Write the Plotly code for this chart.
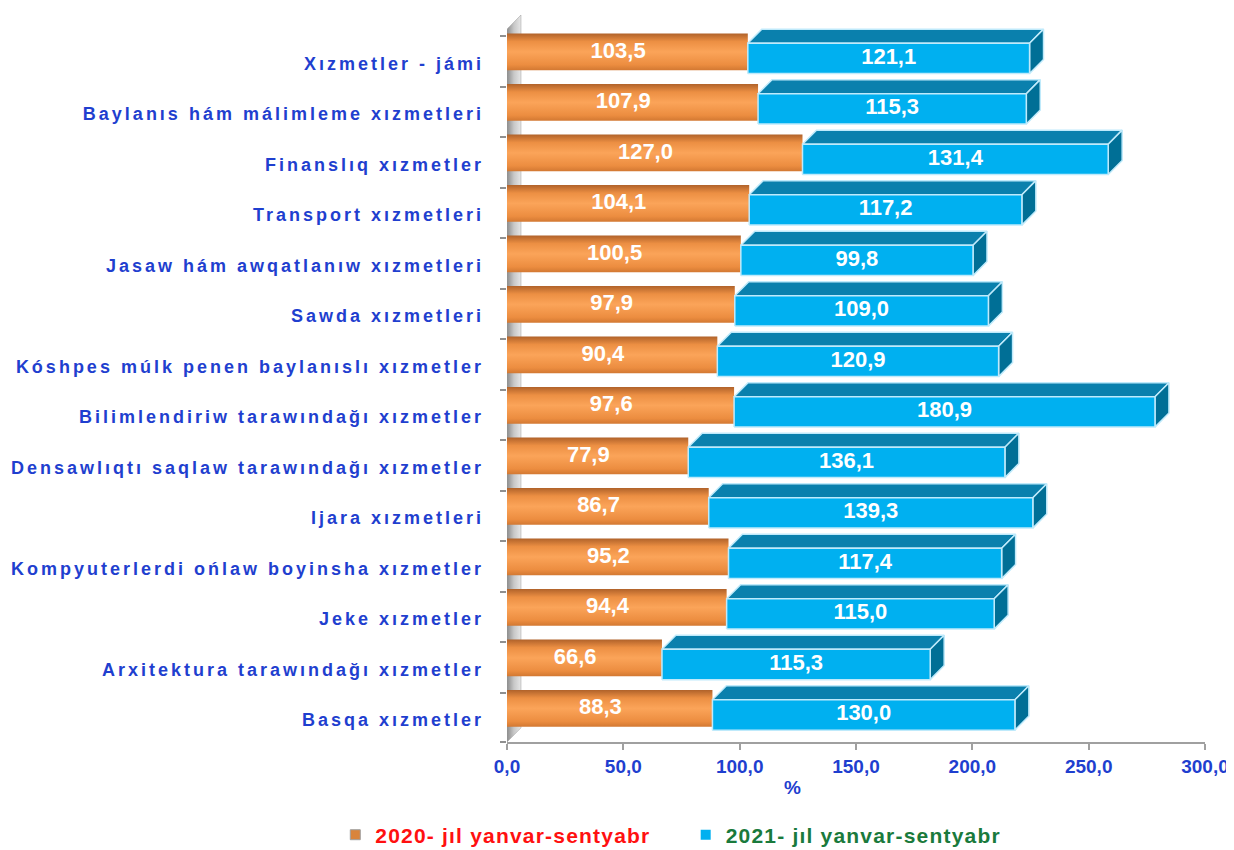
import plotly.graph_objects as go

categories = ["Xızmetler - jámi", "Baylanıs hám málimleme xızmetleri", "Finanslıq xızmetler",
              "Transport xızmetleri", "Jasaw hám awqatlanıw xızmetleri", "Sawda xızmetleri",
              "Kóshpes múlk penen baylanıslı xızmetler", "Bilimlendiriw tarawındağı xızmetler",
              "Densawlıqtı saqlaw tarawındağı xızmetler", "Ijara xızmetleri",
              "Kompyuterlerdi ońlaw boyinsha xızmetler", "Jeke xızmetler",
              "Arxitektura tarawındağı xızmetler", "Basqa xızmetler"]
v2020 = [103.5, 107.9, 127.0, 104.1, 100.5, 97.9, 90.4, 97.6, 77.9, 86.7, 95.2, 94.4, 66.6, 88.3]
v2021 = [121.1, 115.3, 131.4, 117.2, 99.8, 109.0, 120.9, 180.9, 136.1, 139.3, 117.4, 115.0, 115.3, 130.0]
series_names = ["2020- jıl yanvar-sentyabr", "2021- jıl yanvar-sentyabr"]
x_ticks = [0, 50, 100, 150, 200, 250, 300]

n = len(categories)
ypos = [n - 1 - i for i in range(n)]

# geometry (in axis units)
DX, DY = 6.0, 0.28      # depth of the 3D boxes
HF = 0.30               # half height of blue front face
OB, OT = -0.235, 0.495  # orange bar bottom/top offsets

ARIAL = "Arial, Liberation Sans, sans-serif"
LABEL_BLUE = "#1f3fcf"

fig = go.Figure()

# left wall
fig.add_trace(go.Scatter(
    x=[0, 0, DX, DX, 0], y=[-0.535, n - 1 + 0.58, n - 1 + 0.86, -0.535 + DY, -0.535],
    fill="toself", mode="lines", line=dict(width=0.5, color="#9a9a9a"),
    fillgradient=dict(type="horizontal", colorscale=[[0, "#8c8c8c"], [0.5, "#c8c8c8"], [1, "#e6e6e6"]]),
    hoverinfo="skip", showlegend=False))

# orange bars (cylinder-like gradient)
for v, y in zip(v2020, ypos):
    b, t = y + OB, y + OT
    fig.add_trace(go.Scatter(
        x=[0, v, v, 0, 0], y=[b, b, t, t, b], fill="toself", mode="lines",
        line=dict(width=0),
        fillgradient=dict(type="vertical",
                          colorscale=[[0, "#d27832"], [0.15, "#ec8d40"], [0.5, "#fba459"],
                                      [0.78, "#ec8f43"], [1, "#b0622a"]]),
        hoverinfo="skip", showlegend=False))

# blue boxes
fx, fy, tx, ty, sx, sy = [], [], [], [], [], []
for a, v, y in zip(v2020, v2021, ypos):
    e = a + v
    fx += [a, e, e, a, a, None]
    fy += [y - HF, y - HF, y + HF, y + HF, y - HF, None]
    tx += [a, e, e + DX, a + DX, a, None]
    ty += [y + HF, y + HF, y + HF + DY, y + HF + DY, y + HF, None]
    sx += [e, e + DX, e + DX, e, e, None]
    sy += [y - HF, y - HF + DY, y + HF + DY, y + HF, y - HF, None]

edge = dict(width=1.5, color="#bfeafb")
fig.add_trace(go.Scatter(x=tx, y=ty, fill="toself", fillcolor="#0a80ad", mode="lines",
                         line=edge, hoverinfo="skip", showlegend=False))
fig.add_trace(go.Scatter(x=sx, y=sy, fill="toself", fillcolor="#006f96", mode="lines",
                         line=edge, hoverinfo="skip", showlegend=False))
fig.add_trace(go.Scatter(x=fx, y=fy, fill="toself", fillcolor="#00b0f0", mode="lines",
                         line=edge, hoverinfo="skip", showlegend=False))

# value labels
fmt = lambda v: f"{v:.1f}".replace(".", ",")
fig.add_trace(go.Scatter(
    x=[v / 2 - 4 for v in v2020], y=[y + 0.12 for y in ypos], mode="text",
    text=[fmt(v) for v in v2020],
    textfont=dict(family=ARIAL, size=22, color="white", weight="bold"),
    hoverinfo="skip", showlegend=False))
fig.add_trace(go.Scatter(
    x=[a + v / 2 for a, v in zip(v2020, v2021)], y=ypos, mode="text",
    text=[fmt(v) for v in v2021],
    textfont=dict(family=ARIAL, size=22, color="white", weight="bold"),
    hoverinfo="skip", showlegend=False))

# legend entries
fig.add_trace(go.Scatter(x=[None], y=[None], mode="markers", legend="legend",
                         marker=dict(symbol="square", size=10, color="#d9843c",
                                     line=dict(width=1, color="#a0a0a0")),
                         name=f'<span style="color:#ff1010;letter-spacing:1.2px">{series_names[0]}</span>'))
fig.add_trace(go.Scatter(x=[None], y=[None], mode="markers", legend="legend2",
                         marker=dict(symbol="square", size=10, color="#00b0f0"),
                         name=f'<span style="color:#1a7a3c;letter-spacing:1.2px">{series_names[1]}</span>'))

fig.add_annotation(x=122.5, y=-0.062, xref="x", yref="paper", text="%", showarrow=False,
                   font=dict(family=ARIAL, size=19, color=LABEL_BLUE, weight="bold"),
                   yanchor="middle")

legend_font = dict(family=ARIAL, size=21, weight="bold")
fig.update_layout(
    width=1226, height=842,
    margin=dict(l=499, r=29, t=7, b=108, autoexpand=False),
    paper_bgcolor="white", plot_bgcolor="white",
    separators=", ",
    showlegend=True,
    legend=dict(orientation="h", x=-0.246, xanchor="left", y=-0.128, yanchor="middle",
                font=legend_font, itemwidth=30),
    legend2=dict(orientation="h", x=0.256, xanchor="left", y=-0.128, yanchor="middle",
                 font=legend_font, itemwidth=30),
    xaxis=dict(range=[0, 300], tickvals=x_ticks, ticktext=[fmt(t) for t in x_ticks],
               showgrid=False, zeroline=False, showline=True, linecolor="#a0a0a0", linewidth=2,
               ticks="outside", ticklen=6, tickwidth=1.5, tickcolor="#a0a0a0",
               tickfont=dict(family=ARIAL, size=19, color=LABEL_BLUE, weight="bold")),
    yaxis=dict(range=[-0.535, n - 1 + 0.86], tickvals=[y - 0.1 for y in ypos],
               ticktext=[f'<span style="letter-spacing:3px">{c}</span>' for c in categories],
               showgrid=False, zeroline=False, showline=False, ticks="",
               ticklabelstandoff=22,
               tickfont=dict(family=ARIAL, size=18, color=LABEL_BLUE, weight="bold"),
               minor=dict(tickvals=[y + 0.44 for y in ypos] + [-0.535], ticks="outside",
                          ticklen=6, tickcolor="#909090", tickwidth=1.5)),
)

fig.write_html("out.html")
